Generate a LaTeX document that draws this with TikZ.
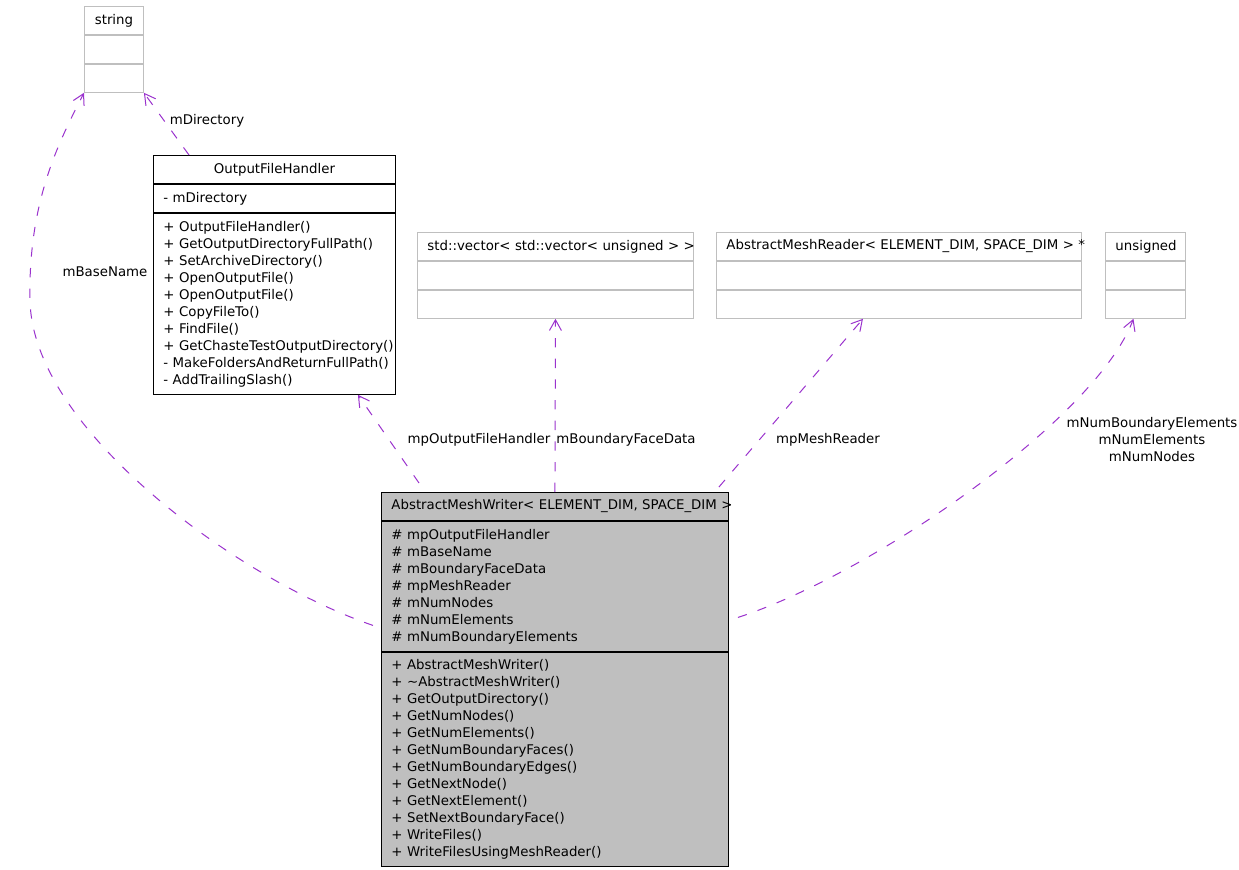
\documentclass[tikz,border=0pt]{standalone}
\usepackage{fontspec}
\setmainfont{DejaVu Sans}
\usepackage{xcolor}
\usetikzlibrary{arrows.meta,positioning}
\definecolor{edgepurple}{HTML}{9A32CD}
\definecolor{boxgray}{HTML}{BFBFBF}

\begin{document}
\begin{tikzpicture}[
  x=0.75pt, y=-0.75pt,
  font=\fontsize{10pt}{12.75pt}\selectfont,
  part/.style={draw=boxgray, line width=0.7pt, inner xsep=7.5pt, inner ysep=0pt,
               minimum height=21pt, align=left},
  head/.style={part, align=center},
  mainpart/.style={part, draw=black, fill=boxgray},
  mainhead/.style={mainpart, align=center},
  uses/.style={draw=edgepurple, line width=0.75pt, dash pattern=on 7pt off 8.5pt,
               -{Straight Barb[length=8pt,width=9pt]}},
  lbl/.style={inner sep=0pt, align=center}]
  \useasboundingbox (0,0) rectangle (1239,869);
  % string
  \node[head, text width=29.25pt, anchor=north west] (strName) at (84,6) {string};
  \node[part, text width=29.25pt, below=0pt of strName] (strAttr) {};
  \node[part, text width=29.25pt, below=0pt of strAttr] (strOps) {};
  % OutputFileHandler
  \node[head, draw=black, text width=166.5pt, anchor=north west] (ofhName) at (153,155)
        {OutputFileHandler};
  \node[part, draw=black, text width=166.5pt, below=0pt of ofhName] (ofhAttr) {- mDirectory};
  \node[part, draw=black, text width=166.5pt, minimum height=135.75pt, below=0pt of ofhAttr] (ofhOps)
        {+ OutputFileHandler()\\+ GetOutputDirectoryFullPath()\\+ SetArchiveDirectory()\\
         + OpenOutputFile()\\+ OpenOutputFile()\\+ CopyFileTo()\\+ FindFile()\\
         \mbox{+ GetChasteTestOutputDirectory()}\\\mbox{- MakeFoldersAndReturnFullPath()}\\
         - AddTrailingSlash()};
  % std::vector
  \node[head, text width=192pt, anchor=north west] (vecName) at (417,232)
        {\mbox{std::vector< std::vector< unsigned > >}};
  \node[part, text width=192pt, below=0pt of vecName] (vecAttr) {};
  \node[part, text width=192pt, below=0pt of vecAttr] (vecOps) {};
  % AbstractMeshReader
  \node[head, text width=258.75pt, anchor=north west] (rdrName) at (716,232)
        {\mbox{AbstractMeshReader< ELEMENT\_DIM, SPACE\_DIM > *}};
  \node[part, text width=258.75pt, below=0pt of rdrName] (rdrAttr) {};
  \node[part, text width=258.75pt, below=0pt of rdrAttr] (rdrOps) {};
  % unsigned
  \node[head, text width=45pt, anchor=north west] (unsName) at (1105,232) {unsigned};
  \node[part, text width=45pt, below=0pt of unsName] (unsAttr) {};
  \node[part, text width=45pt, below=0pt of unsAttr] (unsOps) {};
  % AbstractMeshWriter
  \node[mainhead, text width=245.25pt, anchor=north west] (wName) at (381,492)
        {\mbox{AbstractMeshWriter< ELEMENT\_DIM, SPACE\_DIM >}};
  \node[mainpart, text width=245.25pt, minimum height=97.5pt, below=0pt of wName] (wAttr)
        {\# mpOutputFileHandler\\\# mBaseName\\\# mBoundaryFaceData\\\# mpMeshReader\\
         \# mNumNodes\\\# mNumElements\\\# mNumBoundaryElements};
  \node[mainpart, text width=245.25pt, minimum height=160.5pt, below=0pt of wAttr] (wOps)
        {+ AbstractMeshWriter()\\+ \textasciitilde AbstractMeshWriter()\\+ GetOutputDirectory()\\
         + GetNumNodes()\\+ GetNumElements()\\+ GetNumBoundaryFaces()\\+ GetNumBoundaryEdges()\\
         + GetNextNode()\\+ GetNextElement()\\+ SetNextBoundaryFace()\\+ WriteFiles()\\
         + WriteFilesUsingMeshReader()};
  % usage edges
  \draw[uses] ([shift={(-8,39)}]wAttr.west) .. controls (240,580) and (32,430) .. (30,300)
        .. controls (28,200) and (60,140) .. (strOps.south west);
  \draw[uses] ([shift={(36,0)}]ofhName.north west) -- (strOps.south east);
  \draw[uses] ([shift={(38,-9)}]wName.north west) -- ([shift={(-38,0)}]ofhOps.south east);
  \draw[uses] (wName.north) -- (vecOps.south);
  \draw[uses] ([shift={(-10,-5)}]wName.north east) -- ([shift={(-36,0)}]rdrOps.south);
  \draw[uses] ([shift={(9,31)}]wAttr.east) .. controls (870,575) and (1095,420)
        .. ([shift={(-12,0)}]unsOps.south);
  % edge labels
  \node[lbl] (lBase) at (105,272) {mBaseName};
  \node[lbl] (lDir) at (207,121) {mDirectory};
  \node[lbl] (lOut) at (479,440) {mpOutputFileHandler};
  \node[lbl] (lFace) at (626,440) {mBoundaryFaceData};
  \node[lbl] (lRdr) at (828,440) {mpMeshReader};
  \node[lbl] (lNum) at (1152,440) {mNumBoundaryElements\\mNumElements\\mNumNodes};
\end{tikzpicture}
\end{document}
